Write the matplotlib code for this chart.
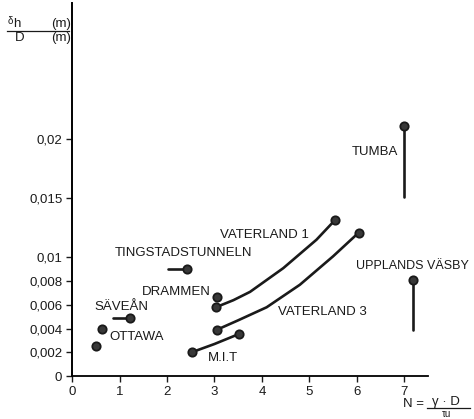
import numpy as np
import matplotlib.pyplot as plt
from matplotlib.lines import Line2D

plt.rcParams['font.family'] = ['Liberation Sans', 'DejaVu Sans']

# values (x = N, y = delta_h / D)
ottawa_x = [0.5, 0.63]
ottawa_y = [0.0025, 0.004]
saveaan_x = [0.86, 1.22]
saveaan_y = [0.0049, 0.0049]
tingstad_x = [2.02, 2.42]
tingstad_y = [0.009, 0.009]
drammen_x = [3.05]
drammen_y = [0.0067]
vaterland1_x = [3.03, 3.4, 3.75, 4.45, 5.15, 5.55]
vaterland1_y = [0.0058, 0.0064, 0.0071, 0.0091, 0.0115, 0.0132]
vaterland3_x = [3.05, 3.5, 4.1, 4.8, 5.5, 6.04]
vaterland3_y = [0.0039, 0.0047, 0.0058, 0.0077, 0.0101, 0.0121]
mit_x = [2.52, 3.0, 3.52]
mit_y = [0.002, 0.0027, 0.00355]
tumba_x = [7.0, 7.0]
tumba_y = [0.0211, 0.0151]
vasby_x = [7.19, 7.19]
vasby_y = [0.0081, 0.0039]

xticks = [0, 1, 2, 3, 4, 5, 6, 7]
yticks = [0, 0.002, 0.004, 0.006, 0.008, 0.01, 0.015, 0.02]
ytick_labels = ["0", "0,002", "0,004", "0,006", "0,008", "0,01", "0,015", "0,02"]

ink = "#1a1a1a"

fig = plt.figure(figsize=(4.74, 4.19), dpi=100)
ax = fig.add_axes([0.152, 0.1026, 0.751, 0.891])


def site(x, y, dots, line=True):
    if line and len(x) > 1:
        ax.plot(x, y, color=ink, lw=1.9, solid_capstyle="round", clip_on=False)
    ax.plot([x[i] for i in dots], [y[i] for i in dots], "o", ms=6, ls="none",
            mfc="#383838", mec=ink, mew=1.3, clip_on=False, zorder=3)


site(ottawa_x, ottawa_y, [0, 1], line=False)
site(saveaan_x, saveaan_y, [1])
site(tingstad_x, tingstad_y, [1])
site(drammen_x, drammen_y, [0])
site(vaterland1_x, vaterland1_y, [0, -1])
site(vaterland3_x, vaterland3_y, [0, -1])
site(mit_x, mit_y, [0, -1])
site(tumba_x, tumba_y, [0])
site(vasby_x, vasby_y, [0])

lab = dict(fontsize=9.5, color=ink, ha="left", va="center")
ax.text(0.78, 0.0033, "OTTAWA", **lab)
ax.text(0.48, 0.0058, "SÄVEÅN", **lab)
ax.text(0.9, 0.0104, "TINGSTADSTUNNELN", **lab)
ax.text(1.47, 0.0071, "DRAMMEN", **lab)
ax.text(3.12, 0.0119, "VATERLAND 1", **lab)
ax.text(4.34, 0.0054, "VATERLAND 3", **lab)
ax.text(2.86, 0.0015, "M.I.T", **lab)
ax.text(5.89, 0.0189, "TUMBA", **lab)
ax.text(5.98, 0.0093, "UPPLANDS VÄSBY", fontsize=9, color=ink,
        ha="left", va="center")

ax.set_xlim(0, 7.5)
ax.set_ylim(0, 0.0315)
ax.set_xticks(xticks)
ax.set_yticks(yticks)
ax.set_yticklabels(ytick_labels)
ax.spines["top"].set_visible(False)
ax.spines["right"].set_visible(False)
ax.spines["left"].set_linewidth(1.4)
ax.spines["bottom"].set_linewidth(1.3)
ax.tick_params(direction="out", length=4, width=1, labelsize=9.5,
               colors=ink, pad=3)

# y axis label as a fraction, top left
fig.text(8 / 474, 1 - 20.5 / 419, "δ", fontsize=7, color=ink, ha="left", va="center")
fig.text(13 / 474, 1 - 24 / 419, "h", fontsize=9.5, color=ink, ha="left", va="center")
fig.text(71 / 474, 1 - 24 / 419, "(m)", fontsize=9.5, color=ink, ha="right", va="center")
fig.text(15 / 474, 1 - 38 / 419, "D", fontsize=9.5, color=ink, ha="left", va="center")
fig.text(71 / 474, 1 - 38 / 419, "(m)", fontsize=9.5, color=ink, ha="right", va="center")
fig.add_artist(Line2D([7 / 474, 69 / 474], [1 - 31 / 419, 1 - 31 / 419],
                      color=ink, lw=0.9))

# x axis label, bottom right
fig.text(403 / 474, 1 - 404 / 419, "N =", fontsize=9.5, color=ink, ha="left", va="center")
fig.text(446 / 474, 1 - 402 / 419, "γ · D", fontsize=9.5, color=ink, ha="center", va="center")
fig.add_artist(Line2D([427 / 474, 470 / 474], [1 - 408 / 419, 1 - 408 / 419],
                      color=ink, lw=0.9))
fig.text(446 / 474, 1 - 413.5 / 419, "τu", fontsize=7, color=ink, ha="center", va="center")

fig.savefig("out.png", dpi=100)
